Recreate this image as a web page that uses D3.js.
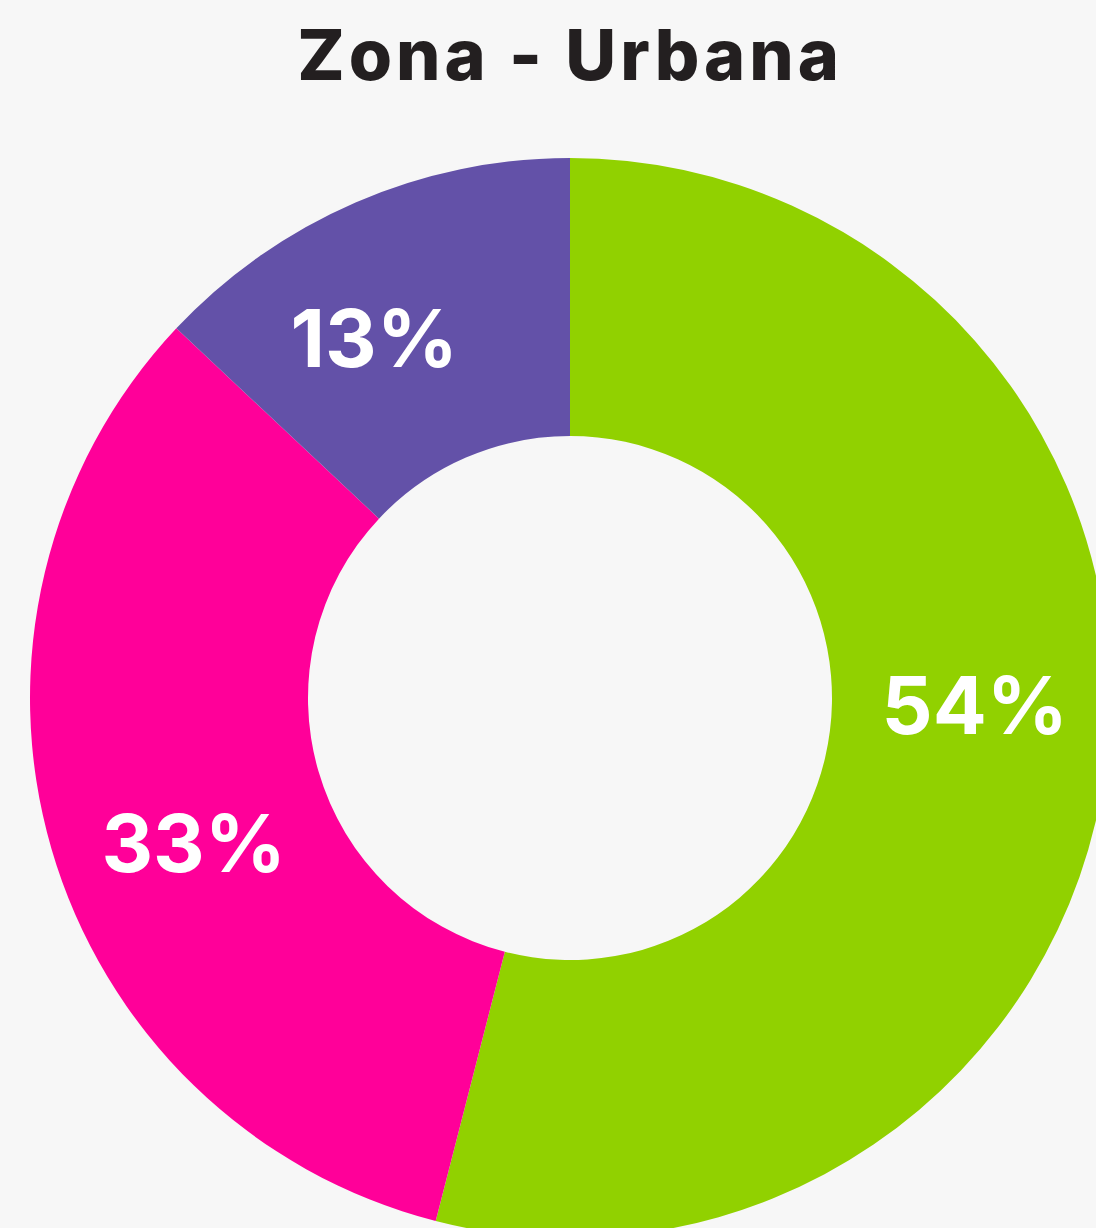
<!DOCTYPE html>
<html>
<head>
<meta charset="utf-8">
<script src="https://cdn.jsdelivr.net/npm/d3@7"></script>
<style>
  html, body { margin: 0; padding: 0; background: #f7f7f7; overflow: hidden; }
  svg { display: block; }
</style>
</head>
<body>
<svg id="chart"></svg>
<script>
  // Data
  const categories = ["A", "B", "C"];
  const values = [54, 33, 13];
  const labels = ["54%", "33%", "13%"];
  const colors = ["#91d100", "#ff0099", "#6351a8"];
  const title = "Zona - Urbana";

  // Dimensions
  const width = 1096, height = 1228;
  const cx = 570, cy = 698;
  const outerR = 540, innerR = 262;

  const svg = d3.select("#chart")
    .attr("width", width)
    .attr("height", height);

  svg.append("rect")
    .attr("width", width)
    .attr("height", height)
    .attr("fill", "#f7f7f7");

  // Title
  svg.append("text")
    .attr("x", cx)
    .attr("y", 80)
    .attr("text-anchor", "middle")
    .attr("font-family", "Inter, 'DejaVu Sans', sans-serif")
    .attr("font-weight", 800)
    .attr("font-size", 70)
    .attr("letter-spacing", 4)
    .attr("fill", "#231f20")
    .text(title);

  const data = categories.map((c, i) => ({ name: c, value: values[i], label: labels[i], color: colors[i] }));

  const pie = d3.pie()
    .value(d => d.value)
    .sort(null);

  const arc = d3.arc()
    .innerRadius(innerR)
    .outerRadius(outerR);

  // labels sit a bit counter-clockwise of the slice middle
  const shift = -5.5 * Math.PI / 180;
  const labelArc = d3.arc()
    .innerRadius(innerR)
    .outerRadius(outerR + 8);

  const g = svg.append("g")
    .attr("transform", `translate(${cx}, ${cy})`);

  const slices = pie(data);

  g.selectAll("path")
    .data(slices)
    .join("path")
    .attr("d", arc)
    .attr("fill", d => d.data.color);

  g.selectAll("text.label")
    .data(slices)
    .join("text")
    .attr("class", "label")
    .attr("transform", d => {
      const p = labelArc.centroid({ startAngle: d.startAngle + shift, endAngle: d.endAngle + shift });
      return `translate(${p[0]}, ${p[1]})`;
    })
    .attr("text-anchor", "middle")
    .attr("dy", "0.3em")
    .attr("font-family", "Inter, 'DejaVu Sans', sans-serif")
    .attr("font-weight", 700)
    .attr("font-size", 80)
    .attr("fill", "#ffffff")
    .text(d => d.data.label);
</script>
</body>
</html>
